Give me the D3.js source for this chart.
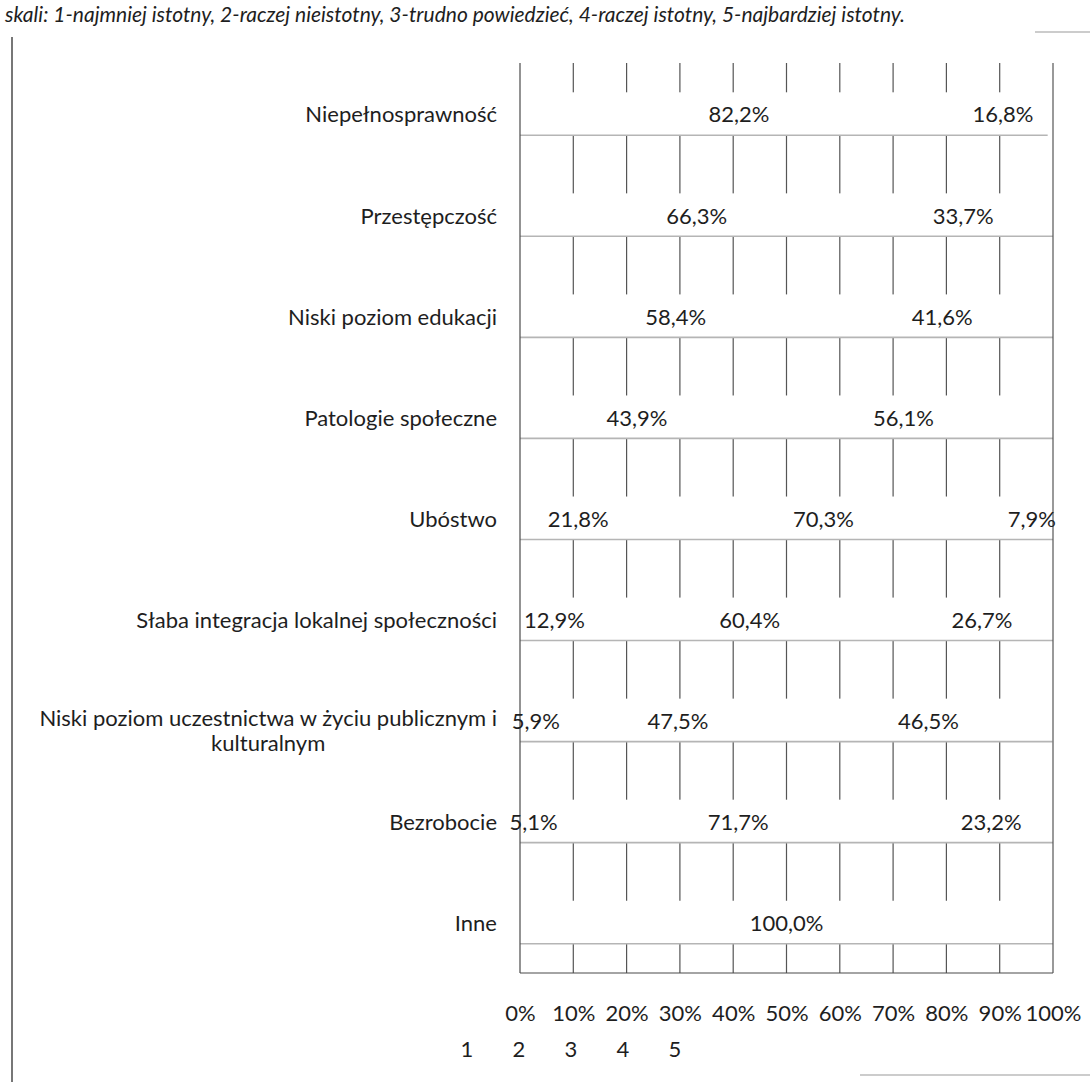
<!DOCTYPE html>
<html><head><meta charset="utf-8">
<script src="https://cdn.jsdelivr.net/npm/d3@7"></script>
<style>
body{margin:0;background:#fff}
svg{display:block}
text{font-family:Lato,"Open Sans",sans-serif;fill:#1e1e1e}
</style>
</head><body>
<svg id="chart" width="1090" height="1082"></svg>
<script>
// ---------- data ----------
const titleText = "skali: 1-najmniej istotny, 2-raczej nieistotny, 3-trudno powiedzieć, 4-raczej istotny, 5-najbardziej istotny.";
const categories = [
  "Niepełnosprawność",
  "Przestępczość",
  "Niski poziom edukacji",
  "Patologie społeczne",
  "Ubóstwo",
  "Słaba integracja lokalnej społeczności",
  "Niski poziom uczestnictwa w życiu publicznym i kulturalnym",
  "Bezrobocie",
  "Inne"
];
const seriesNames = ["1", "2", "3", "4", "5"];
const s1 = [0, 0, 0, 0, 0, 0, 0, 0, 0];
const s2 = [0, 0, 0, 0, 0, 0, 0, 0, 0];
const s3 = [0, 0, 0, 0, 21.8, 12.9, 5.9, 5.1, 0];
const s4 = [82.2, 66.3, 58.4, 43.9, 70.3, 60.4, 47.5, 71.7, 0];
const s5 = [16.8, 33.7, 41.6, 56.1, 7.9, 26.7, 46.5, 23.2, 100.0];
const xTickValues = [0, 10, 20, 30, 40, 50, 60, 70, 80, 90, 100];

// ---------- build ----------
const seriesValues = [s1, s2, s3, s4, s5];
const rows = categories.map((c, i) => {
  const r = {cat: c};
  seriesNames.forEach((s, k) => r[s] = seriesValues[k][i]);
  return r;
});
const stack = d3.stack().keys(seriesNames)(rows);

const svg = d3.select("#chart");
const plot = {left: 520, right: 1053, top: 63, bottom: 973};
const FS = "22px";

const x = d3.scaleLinear().domain([0, 100]).range([plot.left, plot.right]);
const y = d3.scaleBand().domain(categories).range([plot.top, plot.bottom])
  .paddingInner(0.575).paddingOuter(0.29);

const loc = d3.formatLocale({decimal: ",", thousands: " ", grouping: [3], currency: ["", ""]});
const fmtVal = v => loc.format(".1f")(v) + "%";

// title
svg.append("text")
  .attr("x", 5).attr("y", 22)
  .style("font-style", "italic").style("font-size", "21px")
  .text(titleText);

// outer frame fragments
svg.append("line").attr("x1", 12).attr("x2", 12).attr("y1", 37).attr("y2", 1082)
  .attr("stroke", "#555").attr("stroke-width", 1.6);
svg.append("line").attr("x1", 1035).attr("x2", 1090).attr("y1", 32).attr("y2", 32)
  .attr("stroke", "#999").attr("stroke-width", 1.2);
svg.append("line").attr("x1", 860).attr("x2", 1090).attr("y1", 1075).attr("y2", 1075)
  .attr("stroke", "#999").attr("stroke-width", 1.2);

// vertical gridlines
svg.append("g").selectAll("line").data(xTickValues.filter(d => d > 0 && d < 100)).join("line")
  .attr("x1", d => x(d)).attr("x2", d => x(d))
  .attr("y1", plot.top).attr("y2", plot.bottom)
  .attr("stroke", "#555").attr("stroke-width", 1.2);

// bars (white fill, scan lost the colours)
const gBars = svg.append("g");
stack.forEach(layer => {
  gBars.selectAll(null).data(layer.filter(d => d[1] - d[0] > 0)).join("rect")
    .attr("x", d => x(d[0]))
    .attr("width", d => x(d[1]) - x(d[0]))
    .attr("y", d => y(d.data.cat))
    .attr("height", y.bandwidth())
    .attr("fill", "#ffffff");
});
// bottom edge of each bar
svg.append("g").selectAll("line").data(rows).join("line")
  .attr("x1", x(0)).attr("x2", d => x(d3.sum(seriesNames, s => d[s])))
  .attr("y1", d => y(d.cat) + y.bandwidth()).attr("y2", d => y(d.cat) + y.bandwidth())
  .attr("stroke", "#b5b5b5").attr("stroke-width", 1.6);

// axis lines
svg.append("line").attr("x1", x(0)).attr("x2", x(0)).attr("y1", plot.top).attr("y2", plot.bottom)
  .attr("stroke", "#4a4a4a").attr("stroke-width", 1.2);
svg.append("line").attr("x1", x(100)).attr("x2", x(100)).attr("y1", plot.top).attr("y2", plot.bottom)
  .attr("stroke", "#555").attr("stroke-width", 1.2);
svg.append("line").attr("x1", x(0)).attr("x2", x(100)).attr("y1", plot.bottom).attr("y2", plot.bottom)
  .attr("stroke", "#4a4a4a").attr("stroke-width", 1.2);

// x tick labels
const xAxis = d3.axisBottom(x).tickValues(xTickValues).tickFormat(d => d + "%").tickSize(0).tickPadding(0);
const gx = svg.append("g").attr("transform", `translate(0,${plot.bottom + 40})`).call(xAxis);
gx.select(".domain").remove();
gx.selectAll("text").attr("dy", "0.35em").style("font-size", FS).style("font-family", "Lato").attr("fill", "#1e1e1e");

// data labels
const gLab = svg.append("g");
stack.forEach(layer => {
  gLab.selectAll(null).data(layer.filter(d => d[1] - d[0] > 0)).join("text")
    .attr("x", d => x((d[0] + d[1]) / 2))
    .attr("y", d => y(d.data.cat) + y.bandwidth() / 2 + 1)
    .attr("dy", "0.35em")
    .attr("text-anchor", "middle")
    .style("font-size", FS)
    .text(d => fmtVal(d[1] - d[0]));
});

// category labels (wrapped, Excel-like centered lines in right-aligned box)
const labelRight = x(0) - 23;
const maxW = 470;
const gCat = svg.append("g").style("font-size", FS);
categories.forEach(cat => {
  const cy = y(cat) + y.bandwidth() / 2;
  const words = cat.split(" ");
  const probe = gCat.append("text");
  const lines = [];
  let cur = [];
  words.forEach(w => {
    const test = cur.concat([w]).join(" ");
    probe.text(test);
    if (probe.node().getComputedTextLength() > maxW && cur.length) {
      lines.push(cur.join(" "));
      cur = [w];
    } else cur.push(w);
  });
  lines.push(cur.join(" "));
  const widths = lines.map(l => { probe.text(l); return probe.node().getComputedTextLength(); });
  probe.remove();
  const boxW = d3.max(widths);
  const n = lines.length;
  lines.forEach((l, i) => {
    gCat.append("text")
      .attr("x", n === 1 ? labelRight : labelRight - boxW / 2)
      .attr("text-anchor", n === 1 ? "end" : "middle")
      .attr("y", n === 1 ? cy + 1 : cy - 2 + i * 25)
      .attr("dy", "0.35em")
      .text(l);
  });
});

// legend (markers lost in the scan -> white swatches)
const lx = d3.scalePoint().domain(seriesNames).range([467, 675]);
const gLeg = svg.append("g");
seriesNames.forEach(s => {
  gLeg.append("rect").attr("x", lx(s) - 20).attr("y", 1045).attr("width", 9).attr("height", 9).attr("fill", "#fff");
  gLeg.append("text").attr("x", lx(s)).attr("y", 1049).attr("dy", "0.35em")
    .attr("text-anchor", "middle").style("font-size", FS).text(s);
});
</script>
</body></html>
